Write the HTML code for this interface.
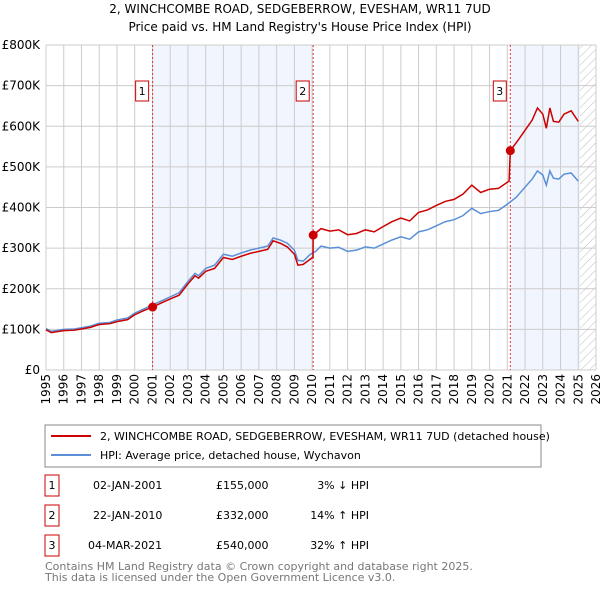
<!DOCTYPE html>
<html><head><meta charset="utf-8"><style>
body{margin:0;background:#fff;font-family:"DejaVu Sans","Liberation Sans",sans-serif;}
svg text{font-family:"DejaVu Sans","Liberation Sans",sans-serif;}
</style></head><body>
<svg id="c" width="600" height="590" xmlns="http://www.w3.org/2000/svg">
<defs><pattern id="hatch" width="6" height="6" patternUnits="userSpaceOnUse" patternTransform="rotate(45)"><line x1="0" y1="0" x2="0" y2="6" stroke="#bbb" stroke-width="1"/></pattern></defs>
<text x="300" y="13" text-anchor="middle" font-size="12">2, WINCHCOMBE ROAD, SEDGEBERROW, EVESHAM, WR11 7UD</text>
<text x="300" y="31" text-anchor="middle" font-size="12">Price paid vs. HM Land Registry's House Price Index (HPI)</text>
<g id="plot"></g>
<rect x="45" y="425" width="496" height="42" fill="#fff" stroke="#888"/>
<line x1="51" y1="436" x2="91" y2="436" stroke="#cc0000" stroke-width="2"/>
<text x="100" y="440" font-size="11">2, WINCHCOMBE ROAD, SEDGEBERROW, EVESHAM, WR11 7UD (detached house)</text>
<line x1="51" y1="455" x2="91" y2="455" stroke="#5b8fd6" stroke-width="2"/>
<text x="100" y="459" font-size="11">HPI: Average price, detached house, Wychavon</text>
<g font-size="11">
<rect x="45" y="475" width="14" height="21" fill="#fff" stroke="#cc0000"/><text x="52" y="489" text-anchor="middle">1</text>
<text x="93" y="489">02-JAN-2001</text><text x="216" y="489">£155,000</text><text x="369" y="489" text-anchor="end">3% ↓ HPI</text>
<rect x="45" y="505" width="14" height="21" fill="#fff" stroke="#cc0000"/><text x="52" y="519" text-anchor="middle">2</text>
<text x="93" y="519">22-JAN-2010</text><text x="216" y="519">£332,000</text><text x="369" y="519" text-anchor="end">14% ↑ HPI</text>
<rect x="45" y="535" width="14" height="21" fill="#fff" stroke="#cc0000"/><text x="52" y="549" text-anchor="middle">3</text>
<text x="88" y="549">04-MAR-2021</text><text x="216" y="549">£540,000</text><text x="369" y="549" text-anchor="end">32% ↑ HPI</text>
</g>
<text x="45" y="570" font-size="11" fill="#777">Contains HM Land Registry data © Crown copyright and database right 2025.</text>
<text x="45" y="581" font-size="11" fill="#777">This data is licensed under the Open Government Licence v3.0.</text>
</svg>
<script>
const hpiYears=[1995,1995.3,1996,1996.6,1997,1997.5,1998,1998.6,1999,1999.6,2000,2000.5,2001,2001.5,2002,2002.5,2003,2003.4,2003.6,2004,2004.5,2005,2005.5,2006,2006.5,2007,2007.5,2007.8,2008.2,2008.6,2009,2009.2,2009.5,2009.9,2010.2,2010.5,2011,2011.5,2012,2012.5,2013,2013.5,2014,2014.5,2015,2015.5,2016,2016.5,2017,2017.5,2018,2018.5,2019,2019.5,2020,2020.5,2021,2021.5,2022,2022.4,2022.7,2023,2023.2,2023.4,2023.6,2023.9,2024.2,2024.6,2025];
const hpiValues=[102,95,100,101,104,108,115,117,123,128,140,150,160,170,180,190,218,238,232,250,258,285,280,288,295,300,305,325,320,312,295,270,268,285,292,305,300,302,292,295,303,300,310,320,328,322,340,345,355,365,370,380,398,385,390,393,408,425,450,470,490,480,455,490,472,470,482,485,465];
const propYears=[1995,1995.3,1996,1996.6,1997,1997.5,1998,1998.6,1999,1999.6,2000,2000.5,2001.01,2001.5,2002,2002.5,2003,2003.4,2003.6,2004,2004.5,2005,2005.5,2006,2006.5,2007,2007.5,2007.8,2008.2,2008.6,2009,2009.2,2009.5,2010.05,2010.06,2010.5,2011,2011.5,2012,2012.5,2013,2013.5,2014,2014.5,2015,2015.5,2016,2016.5,2017,2017.5,2018,2018.5,2019,2019.5,2020,2020.5,2021.1,2021.17,2021.6,2022,2022.4,2022.7,2023,2023.2,2023.4,2023.6,2023.9,2024.2,2024.6,2025];
const propValues=[99,92,97,98,101,105,112,114,119,124,136,146,155,165,175,184,212,232,226,243,250,277,272,280,287,292,297,318,312,303,285,258,260,278,332,348,342,345,333,336,345,340,353,365,374,367,388,394,405,415,420,433,455,437,445,447,465,540,565,590,615,645,630,595,645,612,610,630,638,612];
const sales=[{n:"1",t:2001.01,v:155},{n:"2",t:2010.06,v:332},{n:"3",t:2021.17,v:540}];
const yTicks=[0,100,200,300,400,500,600,700,800];
const yTickLabels=["£0","£100K","£200K","£300K","£400K","£500K","£600K","£700K","£800K"];
const xTicks=[];for(let y=1995;y<=2026;y++)xTicks.push(y);
const X0=46,X1=596,Y0=370,Y1=45;
const xs=t=>X0+(t-1995)/(2026-1995)*(X1-X0);
const ys=v=>Y0-v/800*(Y0-Y1);
const NS="http://www.w3.org/2000/svg";
const g=document.getElementById('plot');
function mk(tag,a){const e=document.createElementNS(NS,tag);for(const k in a)e.setAttribute(k,a[k]);g.appendChild(e);return e;}
let e;
e=mk('rect',{x:xs(2001.01),y:Y1,width:xs(2010.06)-xs(2001.01),height:Y0-Y1,fill:'#eef3fc',opacity:0.8});


e=mk('rect',{x:xs(2021.17),y:Y1,width:xs(2025.1)-xs(2021.17),height:Y0-Y1,fill:'#eef3fc',opacity:0.8});


e=mk('rect',{x:xs(2025.1),y:Y1,width:X1-xs(2025.1),height:Y0-Y1,fill:'url(#hatch)'});


xTicks.forEach((t,i)=>{
 e=mk('line',{x1:xs(t),x2:xs(t),y1:Y1,y2:Y0,stroke:'#ccc','stroke-width':1});
 
 
 e=mk('text',{x:0,y:0,'font-size':12,'text-anchor':'end',transform:`translate(${xs(t)+4},${Y0+4}) rotate(-90)`});
 e.textContent=t;
 
 
});
yTicks.forEach((v,i)=>{
 e=mk('line',{x1:X0,x2:X1,y1:ys(v),y2:ys(v),stroke:'#ccc','stroke-width':1});
 
 
 e=mk('text',{x:40,y:ys(v)+4,'font-size':12,'text-anchor':'end'});
 e.textContent=yTickLabels[i];
 
 
});
sales.forEach(s=>{
 e=mk('line',{x1:xs(s.t),x2:xs(s.t),y1:Y1,y2:Y0,stroke:'#dd3333','stroke-width':1,'stroke-dasharray':'2,2'});
 
 
});
e=mk('polyline',{points:hpiYears.map((t,i)=>xs(t)+','+ys(hpiValues[i])).join(' '),fill:'none',stroke:'#5b8fd6','stroke-width':1.5});


e=mk('polyline',{points:propYears.map((t,i)=>xs(t)+','+ys(propValues[i])).join(' '),fill:'none',stroke:'#cc0000','stroke-width':1.5});


sales.forEach(s=>{
 e=mk('circle',{cx:xs(s.t),cy:ys(s.v),r:4.5,fill:'#cc0000'});
 
 
 e=mk('rect',{x:xs(s.t)-17,y:81,width:13,height:20,fill:'#fff',stroke:'#cc0000'});
 
 
 e=mk('text',{x:xs(s.t)-10.5,y:95,'font-size':11,'text-anchor':'middle'});
 e.textContent=s.n;
 
 
});
</script>
</body></html>
